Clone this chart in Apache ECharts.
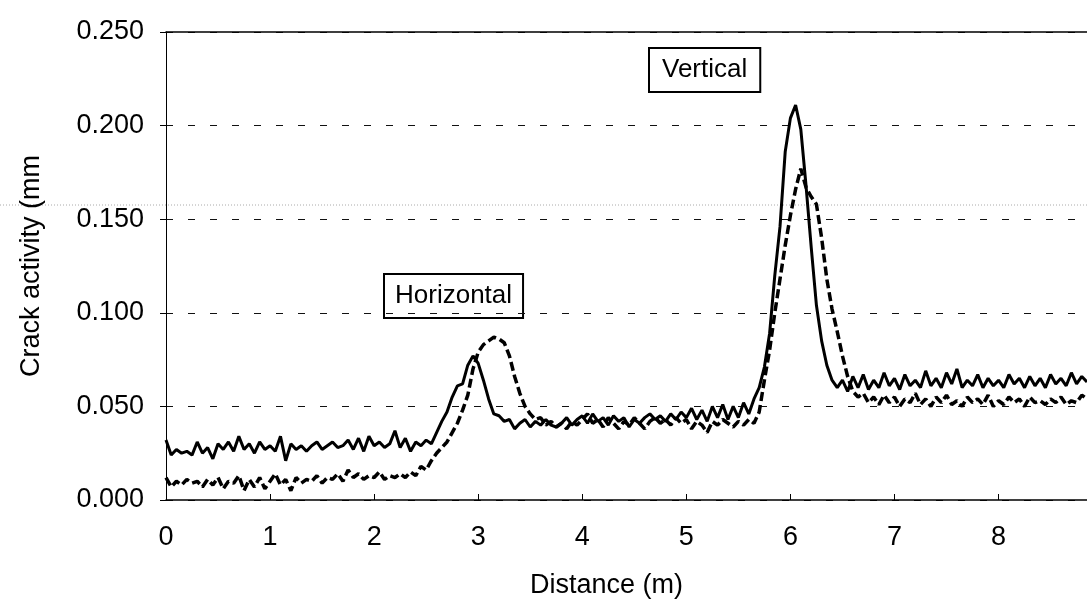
<!DOCTYPE html>
<html lang="en">
<head>
    <meta charset="UTF-8">
    <title>Crack activity</title>
    <style>
        html, body { margin: 0; padding: 0; background: #fff; }
    </style>
    <script src="https://cdn.jsdelivr.net/npm/echarts@6/dist/echarts.min.js"></script>
</head>
<body>
<div id="main" style="width:1087px;height:604px"></div>
<script>
    // distance grid, 0.05 m spacing, 0 .. 8.85 m
    var dist = [];
    for (var i = 0; i < 178; i++) dist.push(+(i * 0.05).toFixed(2));

    // solid trace (mm)
    var solid = [
        0.032,0.024,0.027,0.025,0.026,0.024,0.031,0.025,0.028,0.022,0.030,0.027,0.031,0.026,0.034,0.027,0.030,0.025,0.031,0.027,
        0.029,0.026,0.034,0.021,0.030,0.027,0.029,0.026,0.029,0.031,0.027,0.029,0.031,0.028,0.029,0.032,0.027,0.033,0.026,0.034,
        0.029,0.031,0.028,0.030,0.037,0.028,0.033,0.026,0.031,0.029,0.032,0.030,0.036,0.042,0.047,0.055,0.061,0.062,0.072,0.077,
        0.073,0.064,0.054,0.046,0.045,0.042,0.043,0.038,0.041,0.043,0.039,0.042,0.040,0.043,0.040,0.039,0.041,0.044,0.040,0.043,
        0.045,0.041,0.046,0.042,0.044,0.040,0.045,0.042,0.044,0.039,0.043,0.041,0.044,0.046,0.043,0.045,0.042,0.046,0.043,0.047,
        0.044,0.049,0.043,0.048,0.042,0.050,0.044,0.051,0.043,0.050,0.044,0.052,0.046,0.054,0.060,0.071,0.089,0.120,0.146,0.186,
        0.204,0.211,0.198,0.168,0.135,0.104,0.085,0.072,0.064,0.060,0.064,0.058,0.066,0.060,0.067,0.059,0.064,0.060,0.068,0.061,
        0.065,0.059,0.067,0.061,0.064,0.060,0.069,0.061,0.065,0.060,0.068,0.062,0.070,0.060,0.064,0.061,0.067,0.060,0.065,0.061,
        0.064,0.060,0.067,0.062,0.065,0.060,0.066,0.061,0.065,0.060,0.067,0.062,0.065,0.061,0.068,0.062,0.066,0.063
    ];

    // dashed trace (mm)
    var dashed = [
        0.012,0.007,0.010,0.008,0.011,0.009,0.010,0.007,0.011,0.008,0.012,0.006,0.010,0.009,0.013,0.005,0.011,0.007,0.012,0.006,
        0.010,0.014,0.008,0.011,0.005,0.012,0.009,0.011,0.010,0.013,0.009,0.012,0.011,0.014,0.010,0.016,0.012,0.014,0.011,0.013,
        0.012,0.015,0.011,0.013,0.012,0.014,0.012,0.015,0.013,0.018,0.016,0.021,0.025,0.028,0.031,0.036,0.041,0.048,0.056,0.070,
        0.079,0.083,0.085,0.087,0.086,0.084,0.077,0.066,0.057,0.050,0.046,0.043,0.044,0.040,0.042,0.039,0.041,0.038,0.042,0.040,
        0.043,0.046,0.041,0.043,0.039,0.044,0.041,0.038,0.042,0.040,0.044,0.041,0.038,0.042,0.044,0.041,0.043,0.040,0.044,0.041,
        0.043,0.038,0.042,0.040,0.036,0.042,0.040,0.043,0.041,0.039,0.042,0.040,0.043,0.041,0.047,0.064,0.080,0.100,0.118,0.136,
        0.152,0.166,0.177,0.167,0.162,0.158,0.140,0.118,0.102,0.090,0.077,0.066,0.058,0.055,0.057,0.052,0.055,0.051,0.056,0.052,
        0.055,0.050,0.054,0.052,0.057,0.051,0.054,0.050,0.055,0.052,0.056,0.051,0.053,0.050,0.055,0.052,0.054,0.051,0.056,0.050,
        0.053,0.051,0.055,0.052,0.054,0.050,0.055,0.052,0.053,0.051,0.054,0.052,0.055,0.051,0.053,0.052,0.056,0.054
    ];

    var yTicks = [0, 0.05, 0.1, 0.15, 0.2, 0.25];

    var font = 'Liberation Sans';

    function pairs(arr) {
        return arr.map(function (v, k) { return [dist[k], v]; });
    }

    var myChart = echarts.init(document.getElementById('main'));

    var option = {
        animation: false,
        backgroundColor: '#fff',
        grid: { left: 166, right: 0, top: 32, bottom: 102 },
        xAxis: [{
            type: 'value',
            min: 0,
            max: 8.85,
            interval: 1,
            name: 'Distance (m)',
            nameLocation: 'middle',
            nameGap: 72,
            nameTextStyle: { fontFamily: font, fontSize: 27, color: '#000', padding: [0, 40, 0, 0] },
            axisLine: { lineStyle: { color: '#000', width: 1.5 } },
            axisTick: { inside: true, length: 6, lineStyle: { color: '#000' } },
            axisLabel: { fontFamily: font, fontSize: 27, color: '#000', margin: 24, showMaxLabel: false },
            splitLine: { show: false }
        }, {
            type: 'value',
            position: 'top',
            min: 0,
            max: 8.85,
            axisLine: { show: true, lineStyle: { color: '#000', width: 1.5 } },
            axisTick: { show: false },
            axisLabel: { show: false },
            splitLine: { show: false }
        }],
        yAxis: {
            type: 'value',
            min: yTicks[0],
            max: yTicks[yTicks.length - 1],
            interval: 0.05,
            name: 'Crack activity (mm',
            nameLocation: 'middle',
            nameGap: 121,
            nameTextStyle: { fontFamily: font, fontSize: 27, color: '#000' },
            axisLine: { show: true, lineStyle: { color: '#000', width: 1 } },
            axisTick: { show: true, length: 6, lineStyle: { color: '#000' } },
            axisLabel: {
                fontFamily: font, fontSize: 27, color: '#000', margin: 22,
                formatter: function (v) { return v.toFixed(3); }
            },
            splitLine: { show: true, lineStyle: { color: '#111', width: 1, type: [7, 15] } }
        },
        graphic: [
            {
                type: 'line',
                shape: { x1: 0, y1: 205, x2: 1087, y2: 205 },
                style: { stroke: '#aaa', lineWidth: 1, lineDash: [1, 2] },
                silent: true
            },
            {
                type: 'text',
                left: 383, top: 273,
                style: {
                    text: 'Horizontal', font: '26px "Liberation Sans"', fill: '#000',
                    borderColor: '#000', borderWidth: 2, padding: [9, 11, 9, 11]
                }
            },
            {
                type: 'text',
                left: 648, top: 47,
                style: {
                    text: 'Vertical', font: '26px "Liberation Sans"', fill: '#000',
                    borderColor: '#000', borderWidth: 2, padding: [9, 13, 9, 13]
                }
            }
        ],
        series: [{
            name: 'solid',
            type: 'line',
            data: pairs(solid),
            showSymbol: false,
            lineStyle: { color: '#000', width: 3 },
            z: 3
        }, {
            name: 'dashed',
            type: 'line',
            data: pairs(dashed),
            showSymbol: false,
            lineStyle: { color: '#000', width: 3.5, type: [9, 4] },
            z: 2
        }]
    };

    myChart.setOption(option);
</script>
</body>
</html>
